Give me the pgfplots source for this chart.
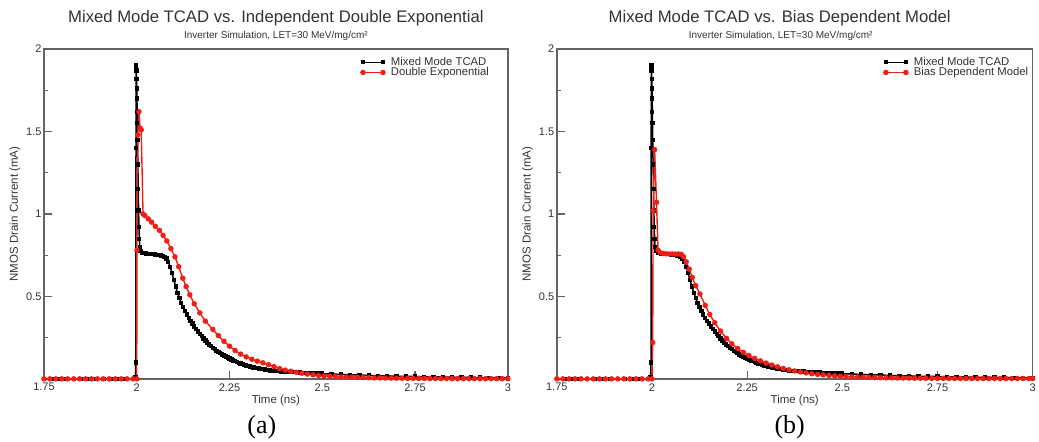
\documentclass[border=0pt]{standalone}
\usepackage{fontspec}
\setmainfont{Liberation Sans}
\newfontfamily\seriffont{Liberation Serif}
\usepackage{pgfplots}
\usepackage{pgfplotstable}
\pgfplotsset{compat=1.18}
\definecolor{framecol}{RGB}{100,100,100}
\definecolor{myred}{RGB}{240,30,20}
\definecolor{txt}{RGB}{50,50,50}

\pgfplotstableread{
t I
1.750 0
1.770 0
1.790 0
1.810 0
1.830 0
1.850 0
1.870 0
1.890 0
1.910 0
1.930 0
1.950 0
1.970 0
1.990 0
1.9965 0.01
1.9975 0.10
1.9980 1.40
1.9985 1.90
1.9990 1.87
1.9995 1.82
2.0000 1.76
2.0005 1.70
2.0010 1.62
2.0015 1.55
2.0020 1.45
2.0030 1.30
2.0040 1.15
2.0050 1.02
2.0060 0.92
2.0070 0.85
2.0080 0.80
2.0100 0.775
2.0150 0.765
2.0200 0.762
2.0250 0.760
2.0300 0.758
2.0350 0.757
2.0400 0.756
2.0450 0.755
2.0500 0.754
2.0550 0.752
2.0600 0.750
2.0650 0.747
2.0700 0.743
2.0750 0.737
2.080 0.730
2.085 0.710
2.090 0.680
2.095 0.640
2.100 0.600
2.105 0.560
2.110 0.520
2.115 0.490
2.120 0.460
2.125 0.435
2.130 0.410
2.135 0.390
2.140 0.370
2.145 0.352
2.150 0.335
2.155 0.318
2.160 0.302
2.165 0.287
2.170 0.272
2.175 0.258
2.180 0.245
2.185 0.232
2.190 0.220
2.195 0.209
2.200 0.198
2.205 0.188
2.210 0.179
2.215 0.170
2.220 0.162
2.225 0.155
2.230 0.148
2.235 0.141
2.240 0.135
2.245 0.129
2.250 0.123
2.255 0.117
2.260 0.112
2.265 0.107
2.270 0.102
2.275 0.097
2.280 0.093
2.285 0.089
2.290 0.085
2.295 0.081
2.300 0.078
2.305 0.075
2.310 0.072
2.315 0.069
2.320 0.067
2.325 0.064
2.330 0.062
2.335 0.060
2.340 0.058
2.345 0.056
2.350 0.054
2.360 0.051
2.370 0.049
2.380 0.047
2.390 0.045
2.400 0.044
2.410 0.042
2.420 0.041
2.430 0.040
2.440 0.038
2.450 0.037
2.460 0.036
2.470 0.035
2.480 0.034
2.490 0.033
2.500 0.032
2.525 0.029
2.550 0.027
2.575 0.025
2.600 0.023
2.625 0.021
2.650 0.019
2.675 0.018
2.700 0.016
2.725 0.015
2.750 0.014
2.775 0.013
2.800 0.012
2.825 0.011
2.850 0.010
2.875 0.009
2.900 0.008
2.925 0.0075
2.950 0.007
2.975 0.0065
3.000 0.006
}\tcad

\pgfplotstableread{
t I
1.750 0
1.766 0
1.782 0
1.798 0
1.814 0
1.830 0
1.846 0
1.862 0
1.878 0
1.894 0
1.910 0
1.926 0
1.942 0
1.958 0
1.974 0
1.990 0
2.000 0
2.0005 0.78
2.003 1.48
2.006 1.62
2.009 1.52
2.012 1.51
2.017 1.00
2.022 0.99
2.031 0.97
2.040 0.95
2.050 0.925
2.061 0.90
2.071 0.87
2.081 0.836
2.092 0.79
2.103 0.74
2.113 0.68
2.124 0.61
2.133 0.56
2.143 0.51
2.155 0.455
2.170 0.40
2.185 0.35
2.205 0.30
2.220 0.262
2.235 0.228
2.250 0.198
2.265 0.172
2.280 0.150
2.295 0.133
2.310 0.119
2.325 0.107
2.340 0.097
2.355 0.086
2.370 0.074
2.385 0.062
2.400 0.053
2.415 0.046
2.430 0.040
2.445 0.034
2.460 0.029
2.475 0.025
2.490 0.021
2.505 0.018
2.520 0.016
2.535 0.014
2.550 0.012
2.565 0.011
2.580 0.010
2.595 0.009
2.610 0.008
2.625 0.007
2.640 0.006
2.655 0.0055
2.670 0.005
2.685 0.0045
2.700 0.004
2.715 0.0035
2.730 0.003
2.745 0.003
2.760 0.0025
2.775 0.0025
2.790 0.002
2.805 0.002
2.820 0.002
2.835 0.002
2.850 0.0015
2.865 0.0015
2.880 0.0015
2.895 0.0015
2.910 0.001
2.925 0.001
2.940 0.001
2.955 0.001
2.970 0.001
2.985 0.001
3.000 0.001
}\dexp

\pgfplotstableread{
t I
1.750 0
1.766 0
1.782 0
1.798 0
1.814 0
1.830 0
1.846 0
1.862 0
1.878 0
1.894 0
1.910 0
1.926 0
1.942 0
1.958 0
1.974 0
1.990 0
2.000 0
2.002 0.22
2.003 1.02
2.007 1.39
2.012 1.07
2.016 0.78
2.022 0.765
2.030 0.760
2.038 0.758
2.046 0.757
2.054 0.757
2.062 0.756
2.070 0.757
2.077 0.755
2.083 0.740
2.090 0.710
2.098 0.665
2.106 0.615
2.115 0.565
2.126 0.515
2.140 0.445
2.152 0.390
2.165 0.340
2.180 0.290
2.196 0.245
2.210 0.212
2.225 0.184
2.240 0.161
2.255 0.141
2.270 0.124
2.285 0.109
2.300 0.096
2.315 0.084
2.330 0.073
2.345 0.063
2.360 0.055
2.375 0.048
2.390 0.042
2.405 0.036
2.420 0.031
2.435 0.027
2.450 0.024
2.465 0.021
2.480 0.018
2.495 0.016
2.510 0.014
2.525 0.012
2.540 0.011
2.555 0.010
2.570 0.009
2.585 0.008
2.600 0.007
2.615 0.0065
2.630 0.006
2.645 0.0055
2.660 0.005
2.675 0.0045
2.690 0.004
2.705 0.004
2.720 0.0035
2.735 0.003
2.750 0.003
2.765 0.0028
2.780 0.0026
2.795 0.0024
2.810 0.0022
2.825 0.002
2.840 0.002
2.855 0.002
2.870 0.002
2.885 0.002
2.900 0.002
2.915 0.002
2.930 0.002
2.945 0.002
2.960 0.002
2.975 0.002
2.990 0.002
3.000 0.002
}\bias

\pgfplotsset{
  panel/.style={
    scale only axis, height=330pt,
    xmin=1.75, xmax=3, ymin=0, ymax=2,
    clip=false,
    xtick={1.75,2,2.25,2.5,2.75,3},
    ytick={0.5,1,1.5,2},
    minor ytick={0.25,0.75,1.25,1.75},
    /pgf/number format/assume math mode=true,
    tick label style={font=\fontsize{11}{13}\selectfont, text=txt},
    xticklabel style={yshift=-1pt},
    yticklabel style={xshift=1pt},
    label style={font=\fontsize{11.5}{13}\selectfont, text=txt},
    xlabel={Time (ns)},
    ylabel={NMOS Drain Current (mA)},
    xlabel style={yshift=3pt},
    ylabel style={yshift=-1pt},
    legend style={draw=none, fill=none, inner sep=0pt, anchor=north west,
      text=txt, row sep=-1.5pt,
      nodes={inner sep=1pt, font=\fontsize{11.3}{13}\selectfont},
      /tikz/every odd column/.append style={column sep=5pt}},
    legend cell align=left,
    legend image code/.code={\draw[##1, mark repeat=1] plot coordinates {(0pt,0pt) (20pt,0pt)};},
    axis line style={draw=framecol, line width=1.6pt},
    tick pos=left, tick align=inside,
    major tick length=8pt, minor tick length=4.5pt,
    tick style={framecol, line width=1.2pt},
  },
  tcadstyle/.style={black, line width=1.5pt, mark=square*, mark size=1.4pt, mark options={solid}},
  redstyle/.style={myred, line width=1.4pt, mark=*, mark size=2pt, mark options={solid}},
}

\newcommand{\innerticks}{%
  \pgfplotsinvokeforeach{2,2.25,2.5,2.75}{\draw[framecol, line width=1.2pt] (axis cs:##1,0) -- ++(0pt,8pt);}%
  \pgfplotsinvokeforeach{0.5,1,1.5}{\draw[framecol, line width=1.2pt] (axis cs:1.75,##1) -- ++(8pt,0pt);}%
  \pgfplotsinvokeforeach{0.25,0.75,1.25,1.75}{\draw[framecol, line width=1.1pt] (axis cs:1.75,##1) -- ++(4.5pt,0pt);}%
}

\begin{document}
\begin{tikzpicture}
\path (0pt,0pt) rectangle (1039pt,442pt);

\begin{axis}[panel, width=464pt, at={(44pt,63pt)}, anchor=south west,
  legend style={at={(0.683,0.978)}}]
\innerticks
\addplot[tcadstyle] table[x=t,y=I] {\tcad};
\addlegendentry{Mixed Mode TCAD}
\addplot[redstyle] table[x=t,y=I] {\dexp};
\addlegendentry{Double Exponential}
\end{axis}

\begin{axis}[panel, width=476pt, at={(557pt,63pt)}, anchor=south west,
  legend style={at={(0.687,0.978)}}]
\innerticks
\addplot[tcadstyle] table[x=t,y=I] {\tcad};
\addlegendentry{Mixed Mode TCAD}
\addplot[redstyle] table[x=t,y=I] {\bias};
\addlegendentry{Bias Dependent Model}
\end{axis}

\node[text=txt, font=\fontsize{16.7}{19}\selectfont] at (276pt,424pt) {Mixed Mode TCAD vs. Independent Double Exponential};
\node[text=txt, font=\fontsize{10}{12}\selectfont] at (276pt,406pt) {Inverter Simulation, LET=30 MeV/mg/cm²};
\node[text=txt, font=\fontsize{16.7}{19}\selectfont] at (780pt,424pt) {Mixed Mode TCAD vs. Bias Dependent Model};
\node[text=txt, font=\fontsize{10}{12}\selectfont] at (781pt,406pt) {Inverter Simulation, LET=30 MeV/mg/cm²};
\node[font=\seriffont\fontsize{26}{30}\selectfont] at (262pt,15pt) {(a)};
\node[font=\seriffont\fontsize{26}{30}\selectfont] at (790pt,15pt) {(b)};
\end{tikzpicture}
\end{document}
